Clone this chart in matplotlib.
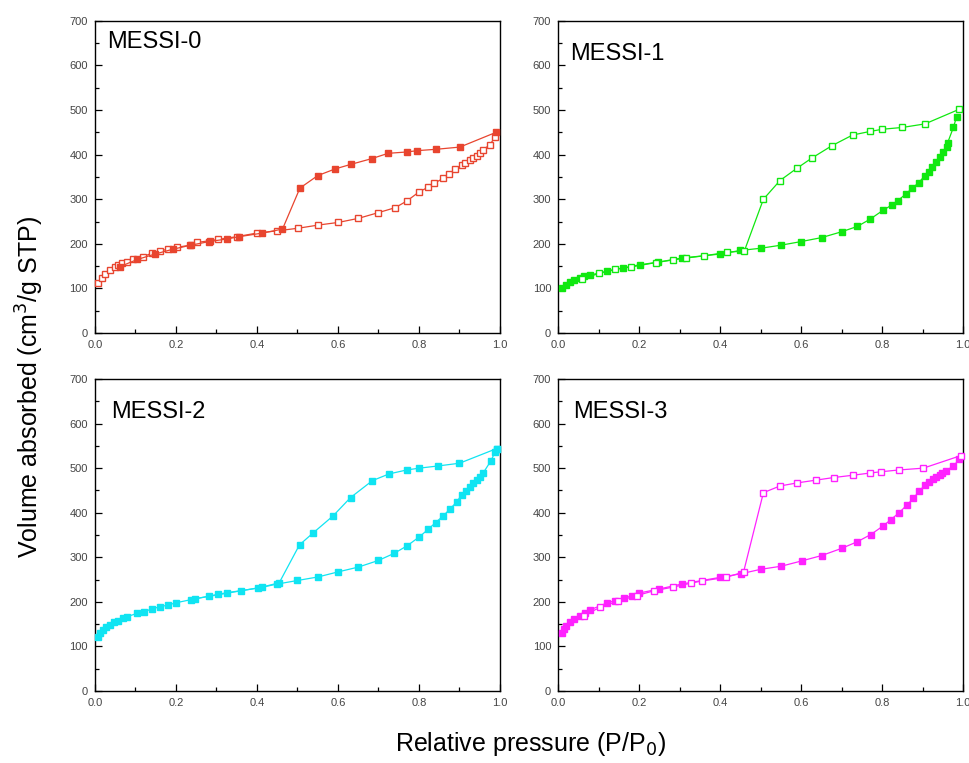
import numpy as np
import matplotlib
matplotlib.use('Agg')
import matplotlib.pyplot as plt
from matplotlib.ticker import MultipleLocator

plt.rcParams['font.family'] = ['Liberation Sans', 'DejaVu Sans']

# N2 isotherms: relative pressure P/P0 and volume adsorbed (cm3/g STP)
# MESSI-0: open = adsorption, filled = desorption
m0_ads_p = [0.008, 0.017, 0.025, 0.037, 0.049, 0.058, 0.066, 0.078, 0.095, 0.119,
            0.14, 0.16, 0.181, 0.202, 0.235, 0.251, 0.284, 0.305, 0.35, 0.399,
            0.449, 0.502, 0.551, 0.601, 0.65, 0.70, 0.741, 0.77, 0.801, 0.823,
            0.838, 0.86, 0.875, 0.89, 0.905, 0.913, 0.926, 0.934, 0.942, 0.95,
            0.958, 0.975, 0.988]
m0_ads_v = [111, 123, 132, 141, 147, 153, 156, 160, 165, 171,
            179, 184, 188, 192, 197, 203, 207, 210, 216, 224,
            229, 235, 242, 248, 257, 270, 281, 296, 317, 327,
            336, 347, 357, 367, 377, 381, 387, 392, 398, 403,
            411, 422, 440]
m0_des_p = [0.99, 0.901, 0.842, 0.796, 0.77, 0.724, 0.683, 0.631, 0.593, 0.55,
            0.506, 0.463, 0.413, 0.356, 0.327, 0.282, 0.237, 0.193, 0.148, 0.105,
            0.062]
m0_des_v = [450, 417, 412, 409, 406, 403, 391, 378, 368, 353,
            325, 233, 224, 216, 211, 205, 197, 188, 177, 165,
            149]

# MESSI-1: filled = adsorption, open = desorption
m1_ads_p = [0.009, 0.020, 0.030, 0.040, 0.053, 0.065, 0.079, 0.12, 0.161, 0.202,
            0.248, 0.305, 0.40, 0.449, 0.50, 0.551, 0.60, 0.651, 0.70, 0.739,
            0.77, 0.802, 0.824, 0.839, 0.859, 0.875, 0.89, 0.905, 0.916, 0.924,
            0.933, 0.943, 0.951, 0.96, 0.962, 0.976, 0.984]
m1_ads_v = [100, 108, 114, 119, 124, 128, 130, 138, 146, 153,
            159, 168, 177, 185, 190, 197, 205, 214, 227, 239,
            255, 275, 287, 297, 312, 325, 337, 352, 362, 373,
            383, 394, 405, 418, 427, 461, 485]
m1_des_p = [0.991, 0.906, 0.85, 0.801, 0.77, 0.727, 0.676, 0.626, 0.589, 0.548,
            0.507, 0.46, 0.418, 0.36, 0.315, 0.285, 0.242, 0.18, 0.141, 0.102,
            0.06]
m1_des_v = [502, 469, 461, 457, 452, 444, 420, 392, 369, 342,
            300, 184, 181, 173, 168, 164, 158, 148, 143, 134,
            121]

# MESSI-2: filled for both branches
m2_ads_p = [0.008, 0.012, 0.019, 0.027, 0.037, 0.047, 0.058, 0.068, 0.08, 0.103,
            0.121, 0.14, 0.16, 0.181, 0.20, 0.237, 0.282, 0.305, 0.327, 0.36,
            0.403, 0.45, 0.50, 0.551, 0.599, 0.65, 0.70, 0.739, 0.771, 0.801,
            0.823, 0.841, 0.86, 0.877, 0.893, 0.905, 0.916, 0.926, 0.934, 0.942,
            0.951, 0.959, 0.978, 0.988, 0.992]
m2_ads_v = [122, 130, 137, 143, 149, 154, 158, 163, 167, 174,
            178, 184, 189, 193, 198, 205, 213, 217, 221, 225,
            231, 240, 248, 256, 267, 278, 293, 309, 326, 346,
            363, 378, 393, 409, 424, 440, 449, 458, 466, 473,
            481, 490, 517, 537, 544]
m2_des_p = [0.992, 0.90, 0.848, 0.801, 0.77, 0.726, 0.685, 0.631, 0.588, 0.539,
            0.505, 0.455, 0.412, 0.247]
m2_des_v = [544, 511, 505, 500, 496, 487, 472, 434, 393, 355,
            328, 243, 233, 207]

# MESSI-3: filled = adsorption, open = desorption
m3_ads_p = [0.009, 0.015, 0.020, 0.030, 0.040, 0.053, 0.067, 0.079, 0.122, 0.141,
            0.163, 0.182, 0.201, 0.25, 0.305, 0.40, 0.451, 0.50, 0.551, 0.602,
            0.651, 0.70, 0.739, 0.772, 0.802, 0.821, 0.842, 0.861, 0.877, 0.892,
            0.906, 0.917, 0.925, 0.933, 0.942, 0.949, 0.958, 0.976, 0.991]
m3_ads_v = [130, 139, 145, 155, 161, 169, 176, 182, 198, 203,
            208, 214, 220, 229, 240, 255, 263, 273, 280, 292,
            304, 320, 335, 351, 370, 384, 400, 417, 432, 449,
            462, 470, 476, 481, 485, 490, 494, 505, 520]
m3_des_p = [0.994, 0.902, 0.843, 0.798, 0.77, 0.727, 0.681, 0.636, 0.591, 0.548,
            0.507, 0.458, 0.415, 0.356, 0.328, 0.283, 0.237, 0.194, 0.149, 0.104,
            0.063]
m3_des_v = [528, 500, 496, 492, 489, 484, 479, 473, 467, 460,
            445, 267, 255, 247, 242, 233, 225, 214, 202, 188,
            169]

samples = [
    ('MESSI-0', '#e8452f', (m0_ads_p, m0_ads_v, False), (m0_des_p, m0_des_v, True), (0.03, 0.968)),
    ('MESSI-1', '#10e810', (m1_ads_p, m1_ads_v, True), (m1_des_p, m1_des_v, False), (0.03, 0.93)),
    ('MESSI-2', '#10e4f2', (m2_ads_p, m2_ads_v, True), (m2_des_p, m2_des_v, True), (0.04, 0.93)),
    ('MESSI-3', '#ff22ff', (m3_ads_p, m3_ads_v, True), (m3_des_p, m3_des_v, False), (0.037, 0.93)),
]

fig = plt.figure(figsize=(9.69, 7.63), dpi=100)
positions = [(0.098, 0.5636, 0.418, 0.409), (0.5759, 0.5636, 0.418, 0.409),
             (0.098, 0.0943, 0.418, 0.409), (0.5759, 0.0943, 0.418, 0.409)]

for (name, color, ads, des, txt), pos in zip(samples, positions):
    ax = fig.add_axes(pos)
    for p, v, filled in (ads, des):
        ax.plot(p, v, '-', color=color, linewidth=0.9, marker='s', markersize=4.8,
                markerfacecolor=color if filled else 'white',
                markeredgecolor=color, markeredgewidth=1.0, clip_on=False, zorder=3)
    ax.set_xlim(0, 1.0)
    ax.set_ylim(0, 700)
    ax.xaxis.set_major_locator(MultipleLocator(0.2))
    ax.xaxis.set_minor_locator(MultipleLocator(0.1))
    ax.yaxis.set_major_locator(MultipleLocator(100))
    ax.yaxis.set_minor_locator(MultipleLocator(50))
    ax.tick_params(which='both', direction='in', top=False, right=False,
                   labelsize=8, labelcolor='#444444', width=0.9)
    ax.tick_params(which='major', length=5, pad=5)
    ax.tick_params(which='minor', length=3)
    ax.xaxis.set_major_formatter(plt.FuncFormatter(lambda x, _: f'{x:.1f}'))
    for s in ax.spines.values():
        s.set_linewidth(1.0)
    ax.text(txt[0], txt[1], name, transform=ax.transAxes, fontsize=17,
            ha='left', va='top')

fig.text(0.031, 0.493, 'Volume absorbed (cm$^3$/g STP)', rotation=90,
         ha='center', va='center', fontsize=18)
fig.text(0.547, 0.025, 'Relative pressure (P/P$_0$)', ha='center', va='center',
         fontsize=18)

plt.savefig('out.png', dpi=100)
plt.close()
